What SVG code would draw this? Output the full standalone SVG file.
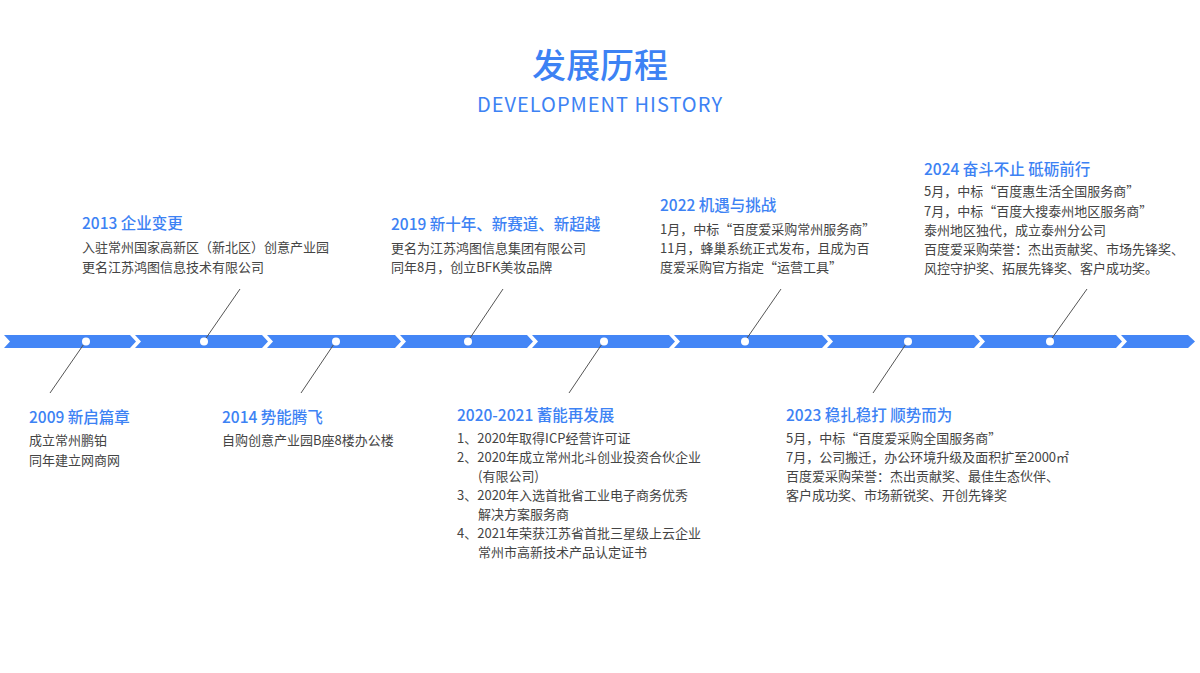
<svg xmlns="http://www.w3.org/2000/svg" width="1200" height="673" viewBox="0 0 1200 673">
<style>
.t{font-family:"Noto Sans CJK SC","Noto Sans",sans-serif}
.h{font-size:15.5px;fill:#3d82f4;font-weight:500}
.b{font-size:13px;fill:#444}
.seg{fill:#4486f6}
.ln{stroke:#555;stroke-width:1}
.dot{fill:#fff}
</style>
<rect width="1200" height="673" fill="#fff"/>
<text class="t" x="600" y="78" text-anchor="middle" font-size="34" fill="#3d82f4" font-weight="500">发展历程</text>
<text class="t" x="600" y="112" text-anchor="middle" font-size="20" fill="#3d82f4" letter-spacing="1">DEVELOPMENT HISTORY</text>
<g id="timeline">
<polygon class="seg" points="4,335 130,335 136,341.5 130,348 4,348 10,341.5"/>
<polygon class="seg" points="135,335 262,335 268,341.5 262,348 135,348 141,341.5"/>
<polygon class="seg" points="267,335 395,335 401,341.5 395,348 267,348 273,341.5"/>
<polygon class="seg" points="400,335 527,335 533,341.5 527,348 400,348 406,341.5"/>
<polygon class="seg" points="532,335 669,335 675,341.5 669,348 532,348 538,341.5"/>
<polygon class="seg" points="674,335 822,335 828,341.5 822,348 674,348 680,341.5"/>
<polygon class="seg" points="827,335 974,335 980,341.5 974,348 827,348 833,341.5"/>
<polygon class="seg" points="979,335 1116,335 1122,341.5 1116,348 979,348 985,341.5"/>
<polygon class="seg" points="1121,335 1188,335 1195,341.5 1188,348 1121,348 1127,341.5"/>
</g>
<g id="connectors">
<line class="ln" x1="86" y1="341" x2="50" y2="393"/>
<line class="ln" x1="204" y1="341" x2="240" y2="289"/>
<line class="ln" x1="336" y1="341" x2="301" y2="393"/>
<line class="ln" x1="468" y1="341" x2="503" y2="289"/>
<line class="ln" x1="604" y1="341" x2="569" y2="393"/>
<line class="ln" x1="745" y1="341" x2="781" y2="289"/>
<line class="ln" x1="908" y1="341" x2="873" y2="393"/>
<line class="ln" x1="1050" y1="341" x2="1087" y2="289"/>
</g>
<g id="dots">
<circle class="dot" cx="86" cy="341.5" r="4"/><circle class="dot" cx="204" cy="341.5" r="4"/>
<circle class="dot" cx="336" cy="341.5" r="4"/><circle class="dot" cx="468" cy="341.5" r="4"/>
<circle class="dot" cx="604" cy="341.5" r="4"/><circle class="dot" cx="745" cy="341.5" r="4"/>
<circle class="dot" cx="908" cy="341.5" r="4"/><circle class="dot" cx="1050" cy="341.5" r="4"/>
</g>
<g id="n2013" class="t"><text class="h" x="82" y="229">2013  企业变更</text>
<text class="b" x="82" y="252">入驻常州国家高新区（新北区）创意产业园</text><text class="b" x="82" y="272">更名江苏鸿图信息技术有限公司</text></g>
<g id="n2019" class="t"><text class="h" x="391" y="230">2019  新十年、新赛道、新超越</text>
<text class="b" x="391" y="253">更名为江苏鸿图信息集团有限公司</text><text class="b" x="391" y="272">同年8月，创立BFK美妆品牌</text></g>
<g id="n2022" class="t"><text class="h" x="660" y="211">2022  机遇与挑战</text>
<text class="b" x="660" y="234">1月，中标“百度爱采购常州服务商”</text><text class="b" x="660" y="253">11月，蜂巢系统正式发布，且成为百</text><text class="b" x="660" y="272">度爱采购官方指定“运营工具”</text></g>
<g id="n2024" class="t"><text class="h" x="924" y="175">2024  奋斗不止 砥砺前行</text>
<text class="b" x="924" y="196">5月，中标“百度惠生活全国服务商”</text><text class="b" x="924" y="215.5">7月，中标“百度大搜泰州地区服务商”</text><text class="b" x="924" y="235">泰州地区独代，成立泰州分公司</text><text class="b" x="924" y="254">百度爱采购荣誉：杰出贡献奖、市场先锋奖、</text><text class="b" x="924" y="273">风控守护奖、拓展先锋奖、客户成功奖。</text></g>
<g id="n2009" class="t"><text class="h" x="29" y="423">2009  新启篇章</text>
<text class="b" x="29" y="445">成立常州鹏铂</text><text class="b" x="29" y="465">同年建立网商网</text></g>
<g id="n2014" class="t"><text class="h" x="222" y="423">2014  势能腾飞</text>
<text class="b" x="222" y="445">自购创意产业园B座8楼办公楼</text></g>
<g id="n2020" class="t"><text class="h" x="457" y="421">2020-2021  蓄能再发展</text>
<text class="b" x="457" y="443">1、2020年取得ICP经营许可证</text><text class="b" x="457" y="462">2、2020年成立常州北斗创业投资合伙企业</text><text class="b" x="478" y="481">(有限公司)</text><text class="b" x="457" y="500">3、2020年入选首批省工业电子商务优秀</text><text class="b" x="478" y="519">解决方案服务商</text><text class="b" x="457" y="538">4、2021年荣获江苏省首批三星级上云企业</text><text class="b" x="478" y="557">常州市高新技术产品认定证书</text></g>
<g id="n2023" class="t"><text class="h" x="786" y="421">2023  稳扎稳打 顺势而为</text>
<text class="b" x="786" y="443">5月，中标“百度爱采购全国服务商”</text><text class="b" x="786" y="462">7月，公司搬迁，办公环境升级及面积扩至2000㎡</text><text class="b" x="786" y="481">百度爱采购荣誉：杰出贡献奖、最佳生态伙伴、</text><text class="b" x="786" y="500">客户成功奖、市场新锐奖、开创先锋奖</text></g>
</svg>
